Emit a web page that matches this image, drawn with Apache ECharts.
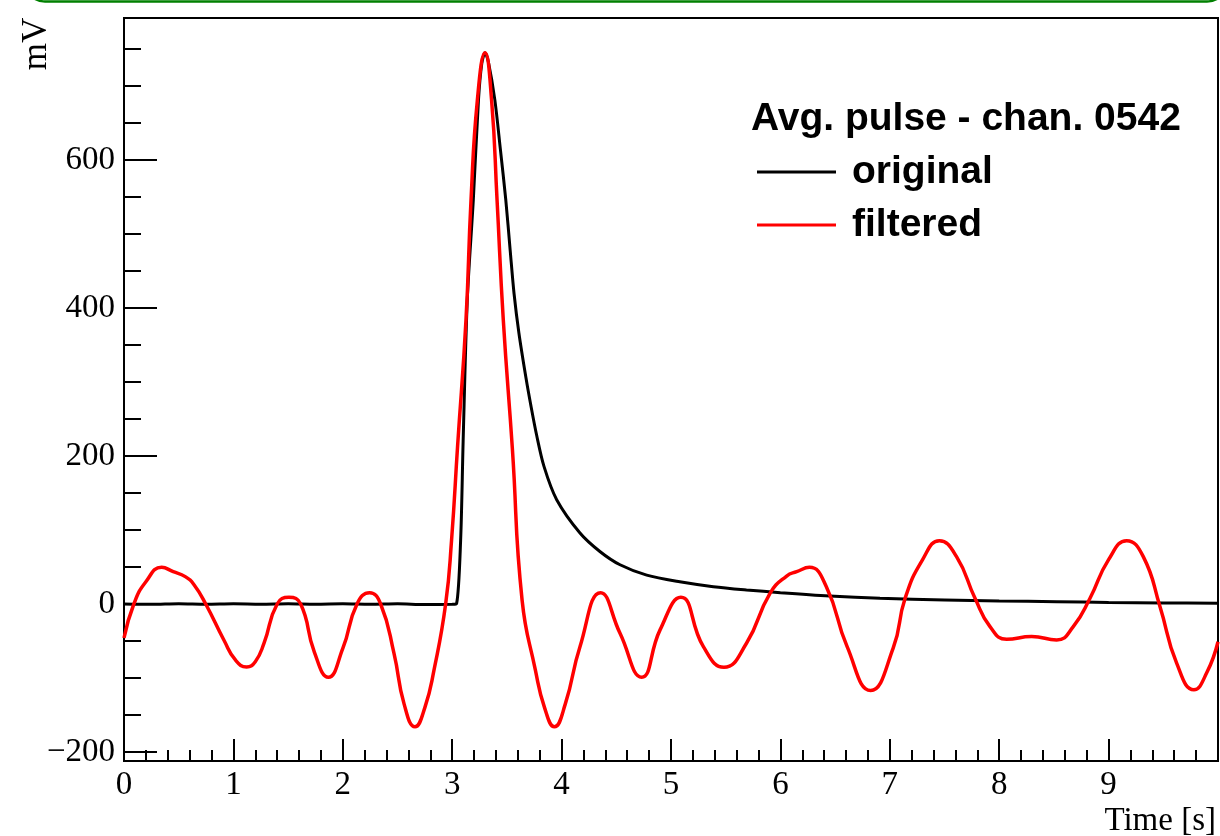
<!DOCTYPE html>
<html>
<head>
<meta charset="utf-8">
<script src="https://cdn.jsdelivr.net/npm/echarts@6/dist/echarts.min.js"></script>
<style>
html,body{margin:0;padding:0;background:#fff;}
#chart{width:1220px;height:836px;}
</style>
</head>
<body>
<div id="chart"></div>
<script>
// ---- data ----
const legendTitle = 'Avg. pulse - chan. 0542';
const seriesNames = ['original', 'filtered'];
const xTitle = 'Time [s]';
const yTitle = 'mV';
const yMajorTicks = [-200, 0, 200, 400, 600];
const yMinorTicks = [-150, -100, -50, 50, 100, 150, 250, 300, 350, 450, 500, 550, 650, 700, 750];

// original pulse [time (s), mV]
const originalData = [
  [0, 0], [0.25, -0.5], [0.5, 0.3], [0.75, -0.4], [1, 0.2], [1.25, -0.3], [1.5, 0.4],
  [1.75, -0.2], [2, 0.3], [2.25, -0.4], [2.5, 0.2], [2.75, -0.6], [3.0, -0.5], [3.04, 0.5],
  [3.077, 86], [3.10, 220], [3.138, 411], [3.193, 546], [3.24, 681], [3.27, 730], [3.30, 745],
  [3.33, 733], [3.39, 681], [3.44, 615], [3.49, 546], [3.53, 478], [3.565, 420], [3.61, 366],
  [3.675, 305], [3.717, 270], [3.772, 228], [3.839, 186], [3.955, 141], [4.168, 96], [4.35, 71],
  [4.534, 53], [4.778, 39], [5.08, 30], [5.387, 23.4], [5.69, 19], [6.0, 15.3], [6.45, 10.8],
  [6.91, 7.7], [7.5, 5.5], [8.0, 4], [8.525, 3.2], [9.0, 2], [9.5, 1.5], [10, 0.9]
];

// filtered pulse [time (s), mV]
const filteredData = [
  [0, -46], [0.09, 0], [0.2, 30], [0.344, 49.5], [0.45, 43.7], [0.56, 37], [0.64, 26],
  [0.747, 0], [0.914, -49], [1.02, -76], [1.121, -85], [1.2, -78], [1.28, -53], [1.40, 0],
  [1.508, 9], [1.615, 0], [1.74, -65], [1.868, -99], [2.0, -60], [2.13, 0], [2.245, 15.3],
  [2.346, 0], [2.468, -66.7], [2.56, -135], [2.66, -166], [2.75, -140], [2.834, -89],
  [2.94, 0], [2.994, 86], [3.05, 215], [3.126, 384], [3.172, 546], [3.23, 681], [3.30, 745],
  [3.36, 681], [3.41, 546], [3.467, 384], [3.55, 210], [3.639, 5], [3.76, -89], [3.844, -140],
  [3.934, -166], [4.034, -135], [4.168, -57.7], [4.357, 15.3], [4.534, -39.6], [4.732, -99],
  [4.90, -35], [5.09, 9], [5.296, -57.7], [5.484, -85.6], [5.69, -53], [5.905, 14.4],
  [6.057, 37.8], [6.149, 43.7], [6.265, 49.5], [6.42, 23.4], [6.61, -57.7], [6.825, -117],
  [7.03, -60], [7.14, 7.7], [7.30, 60], [7.453, 85.6], [7.61, 64], [7.779, 7.7], [7.916, -30.6],
  [8.068, -47.8], [8.297, -44], [8.525, -48.6], [8.677, -30.6], [8.83, 7.7], [9.0, 60],
  [9.165, 85.6], [9.317, 64], [9.47, -3.6], [9.622, -80], [9.78, -116], [9.9, -92], [10.0, -51]
];

// ---- chart ----
const chart = echarts.init(document.getElementById('chart'), null, {renderer: 'canvas'});
const serif = '"Liberation Serif", "Times New Roman", serif';
const sans = '"Liberation Sans", Arial, Helvetica, sans-serif';
const Y_MIN = -212.2, Y_MAX = 792;

const option = {
  animation: false,
  backgroundColor: '#fff',
  grid: {left: 124, right: 2, top: 18, bottom: 75, show: true, borderColor: '#000', borderWidth: 2, backgroundColor: 'transparent'},
  xAxis: {
    type: 'value', min: 0, max: 10, interval: 1,
    axisLine: {onZero: false, lineStyle: {color: '#000', width: 2}},
    axisTick: {inside: true, length: 22, lineStyle: {color: '#000', width: 2}},
    minorTick: {show: true, splitNumber: 5, length: 11, lineStyle: {color: '#000', width: 2}},
    splitLine: {show: false},
    axisLabel: {color: '#000', fontFamily: serif, fontSize: 33, margin: 8, showMaxLabel: false}
  },
  yAxis: [
    {
      type: 'value', min: Y_MIN, max: Y_MAX, position: 'left',
      axisLine: {show: true, onZero: false, lineStyle: {color: '#000', width: 2}},
      axisTick: {show: true, inside: true, length: 33, customValues: yMajorTicks, lineStyle: {color: '#000', width: 2}},
      splitLine: {show: false},
      axisLabel: {
        color: '#000', fontFamily: serif, fontSize: 33, margin: 9, customValues: yMajorTicks,
        formatter: v => String(v).replace('-', '\u2212')
      }
    },
    {
      type: 'value', min: Y_MIN, max: Y_MAX, position: 'left', offset: 0,
      axisLine: {show: false, onZero: false},
      axisTick: {show: true, inside: true, length: 17, customValues: yMinorTicks, lineStyle: {color: '#000', width: 2}},
      splitLine: {show: false},
      axisLabel: {show: false}
    }
  ],
  series: [
    {name: seriesNames[0], type: 'line', data: originalData, yAxisIndex: 0, showSymbol: false,
     smooth: 0.3, lineStyle: {color: '#000', width: 3}, z: 2},
    {name: seriesNames[1], type: 'line', data: filteredData, yAxisIndex: 0, showSymbol: false,
     smooth: 0.5, lineStyle: {color: '#ff0000', width: 3.5}, z: 3}
  ],
  graphic: [
    {type: 'rect', silent: true, shape: {x: 25, y: -400, width: 1202, height: 401.5, r: 20},
     style: {fill: 'none', stroke: '#008000', lineWidth: 2.5}},
    {type: 'text', x: 1216, y: 821, style: {text: xTitle, font: '33px ' + serif, fill: '#000', align: 'right', verticalAlign: 'middle'}},
    {type: 'text', x: 37, y: 44, rotation: Math.PI / 2, style: {text: yTitle, font: '35px ' + serif, fill: '#000', align: 'center', verticalAlign: 'middle'}},
    {type: 'text', x: 751, y: 119, style: {text: legendTitle, font: 'bold 39px ' + sans, fill: '#000', align: 'left', verticalAlign: 'middle'}},
    {type: 'line', shape: {x1: 757, y1: 172, x2: 836, y2: 172}, style: {stroke: '#000', lineWidth: 3}},
    {type: 'text', x: 852, y: 172, style: {text: seriesNames[0], font: 'bold 39px ' + sans, fill: '#000', align: 'left', verticalAlign: 'middle'}},
    {type: 'line', shape: {x1: 757, y1: 225, x2: 836, y2: 225}, style: {stroke: '#ff0000', lineWidth: 3}},
    {type: 'text', x: 852, y: 225, style: {text: seriesNames[1], font: 'bold 39px ' + sans, fill: '#000', align: 'left', verticalAlign: 'middle'}}
  ]
};
chart.setOption(option);
</script>
</body>
</html>
